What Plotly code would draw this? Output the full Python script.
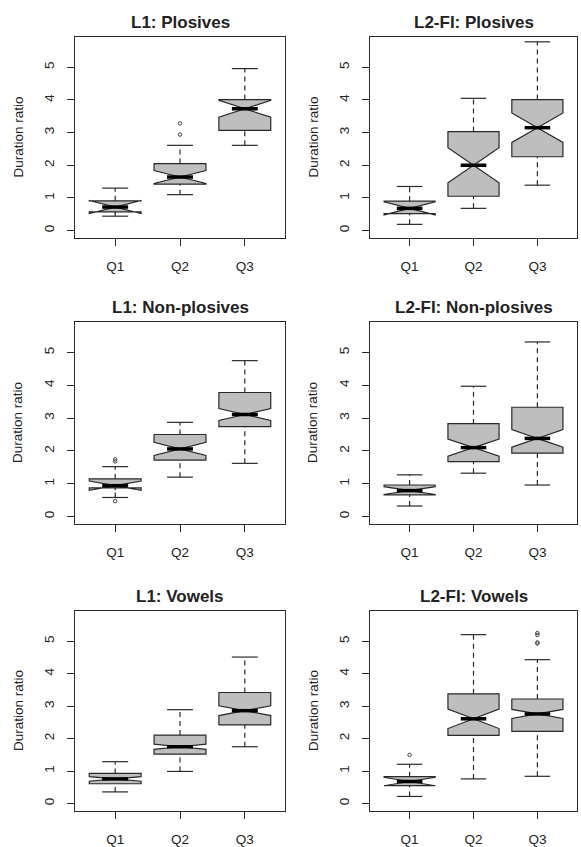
import plotly.graph_objects as go

W, H = 581, 847

categories = ["Q1", "Q2", "Q3"]
positions = [1, 2, 3]
y_ticks = [0, 1, 2, 3, 4, 5]

titles = ["L1: Plosives", "L2-FI: Plosives", "L1: Non-plosives",
          "L2-FI: Non-plosives", "L1: Vowels", "L2-FI: Vowels"]

# L1: Plosives
l1_plos_low = [0.44, 1.10, 2.61]
l1_plos_q1 = [0.57, 1.42, 3.07]
l1_plos_med = [0.72, 1.64, 3.73]
l1_plos_q3 = [0.91, 2.05, 4.01]
l1_plos_high = [1.30, 2.61, 4.96]
l1_plos_notch = [0.20, 0.20, 0.26]
l1_plos_out_x = [2, 2]
l1_plos_out_y = [2.94, 3.28]

# L2-FI: Plosives
l2_plos_low = [0.19, 0.68, 1.39]
l2_plos_q1 = [0.52, 1.05, 2.26]
l2_plos_med = [0.68, 2.00, 3.15]
l2_plos_q3 = [0.90, 3.03, 4.01]
l2_plos_high = [1.35, 4.05, 5.78]
l2_plos_notch = [0.20, 0.54, 0.45]
l2_plos_out_x = []
l2_plos_out_y = []

# L1: Non-plosives
l1_nonp_low = [0.58, 1.20, 1.62]
l1_nonp_q1 = [0.87, 1.72, 2.74]
l1_nonp_med = [0.94, 2.06, 3.11]
l1_nonp_q3 = [1.15, 2.50, 3.78]
l1_nonp_high = [1.52, 2.87, 4.75]
l1_nonp_notch = [0.14, 0.20, 0.18]
l1_nonp_out_x = [1, 1, 1]
l1_nonp_out_y = [1.68, 1.74, 0.47]

# L2-FI: Non-plosives
l2_nonp_low = [0.32, 1.32, 0.96]
l2_nonp_q1 = [0.66, 1.67, 1.93]
l2_nonp_med = [0.79, 2.10, 2.38]
l2_nonp_q3 = [0.96, 2.83, 3.33]
l2_nonp_high = [1.27, 3.97, 5.32]
l2_nonp_notch = [0.12, 0.26, 0.27]
l2_nonp_out_x = []
l2_nonp_out_y = []

# L1: Vowels
l1_vow_low = [0.36, 0.99, 1.75]
l1_vow_q1 = [0.61, 1.52, 2.42]
l1_vow_med = [0.76, 1.75, 2.86]
l1_vow_q3 = [0.93, 2.11, 3.42]
l1_vow_high = [1.29, 2.89, 4.51]
l1_vow_notch = [0.07, 0.08, 0.15]
l1_vow_out_x = []
l1_vow_out_y = []

# L2-FI: Vowels
l2_vow_low = [0.22, 0.76, 0.84]
l2_vow_q1 = [0.55, 2.10, 2.22]
l2_vow_med = [0.68, 2.61, 2.76]
l2_vow_q3 = [0.83, 3.38, 3.22]
l2_vow_high = [1.21, 5.20, 4.43]
l2_vow_notch = [0.13, 0.30, 0.14]
l2_vow_out_x = [1, 3, 3, 3, 3]
l2_vow_out_y = [1.50, 4.93, 4.96, 5.19, 5.25]

panels = [
    (l1_plos_low, l1_plos_q1, l1_plos_med, l1_plos_q3, l1_plos_high, l1_plos_notch, l1_plos_out_x, l1_plos_out_y),
    (l2_plos_low, l2_plos_q1, l2_plos_med, l2_plos_q3, l2_plos_high, l2_plos_notch, l2_plos_out_x, l2_plos_out_y),
    (l1_nonp_low, l1_nonp_q1, l1_nonp_med, l1_nonp_q3, l1_nonp_high, l1_nonp_notch, l1_nonp_out_x, l1_nonp_out_y),
    (l2_nonp_low, l2_nonp_q1, l2_nonp_med, l2_nonp_q3, l2_nonp_high, l2_nonp_notch, l2_nonp_out_x, l2_nonp_out_y),
    (l1_vow_low, l1_vow_q1, l1_vow_med, l1_vow_q3, l1_vow_high, l1_vow_notch, l1_vow_out_x, l1_vow_out_y),
    (l2_vow_low, l2_vow_q1, l2_vow_med, l2_vow_q3, l2_vow_high, l2_vow_notch, l2_vow_out_x, l2_vow_out_y),
]

FONT = "Liberation Sans, Arial, sans-serif"
EDGE = "#2a2a2a"
BOX_W = 0.8
HALF_STAPLE = 0.2

col_px = [(75, 285), (370, 577)]
row_px = [(37, 238), (322, 524), (611, 811)]

fig = go.Figure()
layout = dict(
    width=W, height=H, margin=dict(l=0, r=0, t=0, b=0),
    paper_bgcolor="white", plot_bgcolor="white",
    font=dict(family=FONT, color="#222", size=13),
    showlegend=False, annotations=[],
)

for i, (low, q1, med, q3, high, notch, ox, oy) in enumerate(panels):
    r, c = divmod(i, 2)
    sfx = "" if i == 0 else str(i + 1)
    xa, ya = "x" + sfx, "y" + sfx

    fig.add_trace(go.Box(
        x=positions, q1=q1, median=med, q3=q3,
        lowerfence=q1, upperfence=q3,
        notched=True, notchspan=notch, notchwidth=0.5,
        width=BOX_W, whiskerwidth=0, boxpoints=False,
        fillcolor="#BEBEBE", line=dict(color=EDGE, width=1.2),
        xaxis=xa, yaxis=ya, hoverinfo="skip", showlegend=False,
    ))

    # dashed whiskers
    wx, wy = [], []
    for p, a, b, cc, d in zip(positions, low, q1, q3, high):
        wx += [p, p, None, p, p, None]
        wy += [cc, d, None, a, b, None]
    fig.add_trace(go.Scatter(x=wx, y=wy, mode="lines",
                             line=dict(color=EDGE, width=1.2, dash="5px,4px"),
                             xaxis=xa, yaxis=ya, hoverinfo="skip", showlegend=False))
    # staples
    sx, sy = [], []
    for p, a, d in zip(positions, low, high):
        sx += [p - HALF_STAPLE, p + HALF_STAPLE, None, p - HALF_STAPLE, p + HALF_STAPLE, None]
        sy += [a, a, None, d, d, None]
    fig.add_trace(go.Scatter(x=sx, y=sy, mode="lines",
                             line=dict(color=EDGE, width=1.2),
                             xaxis=xa, yaxis=ya, hoverinfo="skip", showlegend=False))
    # thick medians
    mx, my = [], []
    for p, m in zip(positions, med):
        mx += [p - HALF_STAPLE, p + HALF_STAPLE, None]
        my += [m, m, None]
    fig.add_trace(go.Scatter(x=mx, y=my, mode="lines",
                             line=dict(color="black", width=3.5),
                             xaxis=xa, yaxis=ya, hoverinfo="skip", showlegend=False))
    # outliers
    if ox:
        fig.add_trace(go.Scatter(x=ox, y=oy, mode="markers",
                                 marker=dict(symbol="circle-open", size=3.5, color="#444",
                                             line=dict(width=1)),
                                 xaxis=xa, yaxis=ya, hoverinfo="skip", showlegend=False))

    x0, x1 = col_px[c]
    y0, y1 = row_px[r]
    axis_common = dict(showline=True, mirror=True, linecolor=EDGE, linewidth=1,
                       showgrid=False, zeroline=False, ticks="outside", ticklen=7,
                       tickcolor=EDGE, tickwidth=1, tickfont=dict(family=FONT, size=13.5, color="#222"))
    layout["xaxis" + sfx] = dict(axis_common, domain=[x0 / W, x1 / W], range=[0.38, 3.62],
                                  tickvals=positions, ticktext=categories, anchor=ya,
                                  ticklabelstandoff=9)
    layout["yaxis" + sfx] = dict(axis_common, domain=[1 - y1 / H, 1 - y0 / H], range=[-0.228, 5.928],
                                  tickvals=y_ticks, tickangle=-90, anchor=xa,
                                  ticklabelstandoff=8)
    layout["annotations"].append(dict(
        text="<b>" + titles[i] + "</b>", xref="paper", yref="paper",
        x=(x0 + x1) / 2 / W, y=1 - (y0 - 15) / H, xanchor="center", yanchor="middle",
        showarrow=False, font=dict(family=FONT, size=17, color="#222")))
    layout["annotations"].append(dict(
        text="Duration ratio", xref="paper", yref="paper",
        x=(x0 - 57) / W, y=1 - (y0 + y1) / 2 / H, xanchor="center", yanchor="middle",
        textangle=-90, showarrow=False, font=dict(family=FONT, size=13.5, color="#222")))

fig.update_layout(**layout)
fig.write_html("out.html", config={"displayModeBar": False},
               post_script="document.body.style.margin='0';document.body.style.overflow='hidden';")
